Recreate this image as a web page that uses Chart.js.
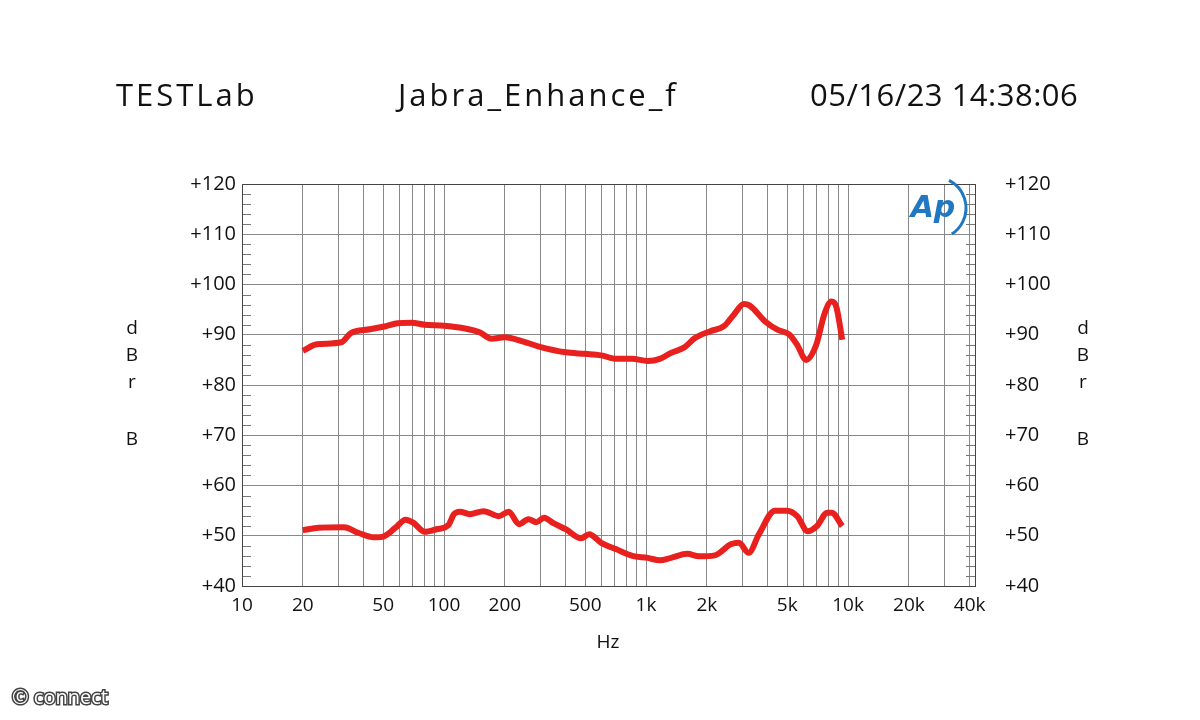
<!DOCTYPE html>
<html>
<head>
<meta charset="utf-8">
<script src="https://cdn.jsdelivr.net/npm/chart.js@4"></script>
<style>
  html, body { margin: 0; padding: 0; background: #fff; }
  #wrap { width: 1200px; height: 720px; position: relative; }
</style>
</head>
<body>
<div id="wrap"><canvas id="c" width="1200" height="720"></canvas></div>
<script>
// Frequency response, two traces
const upperFreq = [20, 23.5, 31, 34.5, 43, 51.5, 59, 69, 80, 100, 125, 150, 172, 200, 245, 292, 400, 500, 600, 714, 850, 1020, 1170, 1330, 1550, 1740, 2080, 2430, 2720, 3050, 3260, 3900, 4470, 5100, 5600, 6200, 6960, 7620, 8270, 8740, 9360]
const upperDb = [86.8, 88.1, 88.5, 90.3, 91.1, 91.7, 92.3, 92.4, 92, 91.8, 91.3, 90.5, 89.2, 89.5, 88.7, 87.7, 86.5, 86.2, 85.9, 85.2, 85.2, 84.8, 85.2, 86.4, 87.5, 89.3, 90.7, 91.7, 94, 96.1, 95.8, 92.6, 91, 90.1, 88, 85, 88, 94, 96.6, 95.6, 89]

const lowerFreq = [20, 24, 32, 37.6, 45, 50.5, 57.5, 64.5, 70.4, 80.3, 92, 105, 112, 120, 134, 157, 187, 209, 235, 262, 286, 313, 348, 400, 477, 523, 600, 713, 855, 1020, 1170, 1330, 1600, 1830, 2190, 2630, 2880, 3220, 3620, 4350, 5000, 5600, 6310, 7000, 7900, 8300, 9360]
const lowerDb = [51.1, 51.6, 51.7, 50.6, 49.7, 49.9, 51.6, 53.2, 52.6, 50.8, 51.3, 52.1, 54.3, 54.8, 54.3, 54.9, 53.9, 54.8, 52.3, 53.3, 52.7, 53.6, 52.5, 51.3, 49.5, 50.3, 48.6, 47.3, 46, 45.6, 45.1, 45.6, 46.4, 45.9, 46.1, 48.3, 48.6, 46.6, 50.3, 55, 55, 53.9, 50.9, 51.9, 54.6, 54.6, 51.9]

const xLabels = {10: "10", 20: "20", 50: "50", 100: "100", 200: "200", 500: "500", 1000: "1k", 2000: "2k", 5000: "5k", 10000: "10k", 20000: "20k", 40000: "40k"}
const yTicks = [40, 50, 60, 70, 80, 90, 100, 110, 120]

const toPoints = (fs, ds) => fs.map((f, i) => ({x: f, y: ds[i]}))

const FONT = "'Open Sans', 'DejaVu Sans', sans-serif"

const decor = {
  id: "decor",
  beforeDraw(chart) {
    const c = chart.ctx
    c.save()
    c.fillStyle = "#fff"
    c.fillRect(0, 0, chart.width, chart.height)
    c.restore()
  },
  afterDraw(chart) {
    const c = chart.ctx
    const {left, right, top, bottom} = chart.chartArea
    const y = chart.scales.y
    c.save()
    // minor ticks every 2 dB on both edges
    c.strokeStyle = "#777"
    c.lineWidth = 1
    for (let v = 40; v <= 120; v += 2) {
      if (v % 10 === 0) continue
      const py = Math.round(y.getPixelForValue(v)) + 0.5
      c.beginPath(); c.moveTo(left, py); c.lineTo(left + 9, py); c.stroke()
      c.beginPath(); c.moveTo(right - 9, py); c.lineTo(right, py); c.stroke()
    }
    c.strokeStyle = "#444"
    c.strokeRect(left + 0.5, top + 0.5, right - left, bottom - top)

    // header
    c.fillStyle = "#111"
    c.font = "31px " + FONT
    c.textBaseline = "middle"
    c.letterSpacing = "3px"
    c.textAlign = "left"
    c.fillText("TESTLab", 116, 97)
    c.fillText("Jabra_Enhance_f", 398, 97)
    c.letterSpacing = "0.5px"
    c.fillText("05/16/23 14:38:06", 810, 97)
    c.letterSpacing = "0px"

    // dBr B side labels
    c.font = "19px " + FONT
    c.textAlign = "center"
    const side = [["d", 329], ["B", 356], ["r", 383], ["B", 440]]
    for (const [t, py] of side) {
      c.fillText(t, 132, py)
      c.fillText(t, 1083, py)
    }
    c.fillText("Hz", 608, 643)

    // Ap logo
    c.fillStyle = "#1f78c1"
    c.font = "italic bold 30px 'DejaVu Sans', sans-serif"
    c.fillText("Ap", 933, 209)
    c.strokeStyle = "#1f78c1"
    c.lineWidth = 3
    c.beginPath(); c.arc(935, 208, 31, -1.1, 1.0); c.stroke()

    // watermark
    c.font = "20px " + FONT
    c.textAlign = "left"
    c.lineWidth = 3
    c.strokeStyle = "#444"
    c.strokeText("© connect", 12, 698)
    c.fillStyle = "#fff"
    c.fillText("© connect", 12, 698)
    c.restore()
  }
}

const gridTicks = [10]
for (let d = 10; d <= 1000; d *= 10) {
  for (let m = 2; m <= 10; m++) gridTicks.push(d * m)
}
gridTicks.push(20000, 30000, 40000)

new Chart(document.getElementById("c"), {
  type: "line",
  data: {
    datasets: [
      {data: toPoints(upperFreq, upperDb), borderColor: "#e8201e", borderWidth: 6, pointRadius: 0, cubicInterpolationMode: "monotone"},
      {data: toPoints(lowerFreq, lowerDb), borderColor: "#e8201e", borderWidth: 6, pointRadius: 0, cubicInterpolationMode: "monotone"},
    ],
  },
  options: {
    responsive: false,
    animation: false,
    layout: {padding: {left: 0, right: 0, top: 184, bottom: 0}},
    plugins: {legend: {display: false}, tooltip: {enabled: false}},
    scales: {
      x: {
        type: "logarithmic",
        min: 10,
        max: 42500,
        afterBuildTicks: axis => { axis.ticks = gridTicks.map(v => ({value: v})) },
        afterFit: axis => { axis.height = 134 },
        grid: {color: "#888", lineWidth: 1, drawTicks: false},
        border: {display: false},
        ticks: {
          autoSkip: false, maxRotation: 0, color: "#111", padding: 8,
          font: {family: FONT, size: 19},
          callback: v => xLabels[v] || "",
        },
      },
      y: {
        min: 40, max: 120,
        afterBuildTicks: axis => { axis.ticks = yTicks.map(v => ({value: v})) },
        afterFit: axis => { axis.width = 242 },
        grid: {color: "#888", lineWidth: 1, drawTicks: false},
        border: {display: false},
        ticks: {color: "#111", padding: 6, font: {family: FONT, size: 20}, callback: v => "+" + v},
      },
      y2: {
        position: "right",
        min: 40, max: 120,
        afterBuildTicks: axis => { axis.ticks = yTicks.map(v => ({value: v})) },
        afterFit: axis => { axis.width = 225 },
        grid: {display: false},
        border: {display: false},
        ticks: {color: "#111", padding: 22, font: {family: FONT, size: 20}, callback: v => "+" + v},
      },
    },
  },
  plugins: [decor],
})
</script>
</body>
</html>
